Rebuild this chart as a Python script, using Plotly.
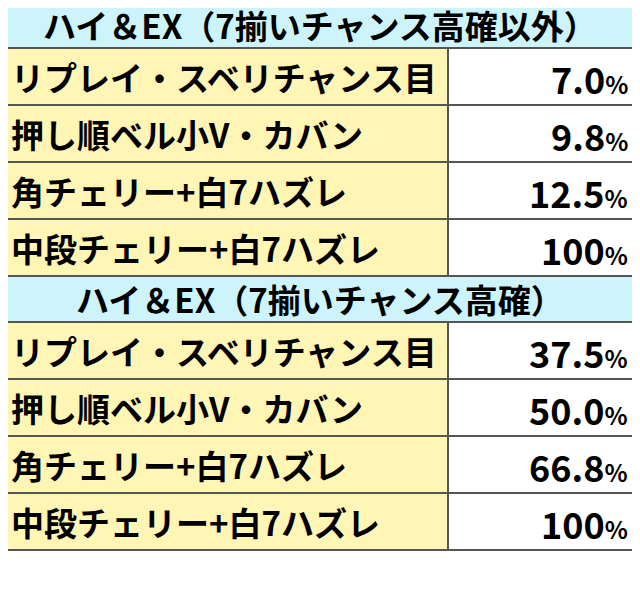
import plotly.graph_objects as go

W, H = 640, 597
OFF = 8  # page body margin

# data
section_titles = ["ハイ＆EX（7揃いチャンス高確以外）", "ハイ＆EX（7揃いチャンス高確）"]
roles = ["リプレイ・スベリチャンス目", "押し順ベル小V・カバン", "角チェリー+白7ハズレ", "中段チェリー+白7ハズレ"]
rates_low = ["7.0", "9.8", "12.5", "100"]
rates_high = ["37.5", "50.0", "66.8", "100"]
footnote = "※全設定共通"

HEAD_BG = "#cdf3fb"
ROLE_BG = "#fff5b5"
LINE = "#555555"
FONT = "Noto Sans CJK JP"

head_h = 46
row_h = 57
split_x = 448
left, right = 2, 638

fig = go.Figure()
shapes, annots = [], []

y = 2
for title, rates in zip(section_titles, [rates_low, rates_high]):
    shapes.append(dict(type="rect", x0=left, x1=right, y0=y, y1=y + head_h,
                       fillcolor=HEAD_BG, line=dict(color=LINE, width=2)))
    annots.append(dict(x=(left + right) / 2, y=y + head_h / 2, text=f"<b>{title}</b>",
                       showarrow=False, font=dict(size=33, color="black", family=FONT)))
    y += head_h
    for role, rate in zip(roles, rates):
        shapes.append(dict(type="rect", x0=left, x1=split_x, y0=y, y1=y + row_h,
                           fillcolor=ROLE_BG, line=dict(color=LINE, width=2)))
        shapes.append(dict(type="rect", x0=split_x, x1=right, y0=y, y1=y + row_h,
                           fillcolor="white", line=dict(color=LINE, width=2)))
        annots.append(dict(x=9, y=y + row_h / 2, text=f"<b>{role}</b>", xanchor="left",
                           showarrow=False, font=dict(size=33, color="black", family=FONT)))
        annots.append(dict(x=630, y=y + row_h / 2 + 1,
                           text=f"<b>{rate}<span style='font-size:24px'>%</span></b>",
                           xanchor="right", showarrow=False,
                           font=dict(size=36, color="black", family=FONT)))
        y += row_h

annots.append(dict(x=6, y=y + 26, text=f"<b>{footnote}</b>", xanchor="left",
                   showarrow=False, font=dict(size=28, color="black", family=FONT)))

fig.update_layout(
    width=W - OFF, height=H - OFF, margin=dict(l=0, r=0, t=0, b=0),
    paper_bgcolor="white", plot_bgcolor="white",
    xaxis=dict(range=[OFF, W], visible=False, fixedrange=True),
    yaxis=dict(range=[H, OFF], visible=False, fixedrange=True),
    shapes=shapes, annotations=annots, showlegend=False,
)
fig.write_html("out.html")
